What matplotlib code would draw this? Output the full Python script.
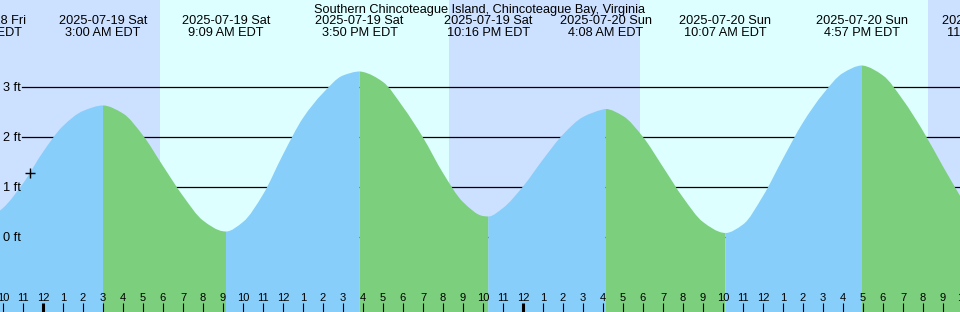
import numpy as np
import matplotlib.pyplot as plt
from matplotlib.path import Path
from matplotlib.patches import PathPatch

plt.rcParams['font.family'] = ['Liberation Sans', 'DejaVu Sans']

title = "Southern Chincoteague Island, Chincoteague Bay, Virginia"

# hours after midnight Jul 19 (EDT), tide height in ft
hours = [-3.0, -2.0, -1.0, 0.0, 1.0, 2.0, 3.0, 4.0, 5.0, 6.0, 7.0, 8.0, 9.0, 9.15,
         10.0, 11.0, 12.0, 13.0, 14.0, 15.0, 15.83, 16.0, 17.0, 18.0, 19.0, 20.0,
         21.0, 22.0, 22.27, 23.0, 24.0, 25.0, 26.0, 27.0, 28.0, 28.13, 29.0, 30.0,
         31.0, 32.0, 33.0, 34.0, 34.12, 35.0, 36.0, 37.0, 38.0, 39.0, 40.0, 40.95,
         41.0, 42.0, 43.0, 44.0, 45.0, 46.0]
heights = [0.30, 0.58, 1.07, 1.70, 2.22, 2.52, 2.63, 2.47, 2.03, 1.42, 0.82, 0.33, 0.115, 0.11,
           0.30, 0.85, 1.65, 2.38, 2.88, 3.23, 3.31, 3.30, 3.10, 2.60, 1.99, 1.28,
           0.70, 0.42, 0.41, 0.58, 1.01, 1.55, 2.05, 2.40, 2.55, 2.56, 2.42, 2.00,
           1.40, 0.79, 0.30, 0.085, 0.08, 0.25, 0.82, 1.57, 2.29, 2.86, 3.28, 3.43,
           3.428, 3.23, 2.74, 2.12, 1.41, 0.72]

# high / low events shown along the top
event_hours = [-2.93, 3.0, 9.15, 15.83, 22.27, 28.13, 34.12, 40.95, 47.25]
event_dates = ["2025-07-18 Fri", "2025-07-19 Sat", "2025-07-19 Sat", "2025-07-19 Sat",
               "2025-07-19 Sat", "2025-07-20 Sun", "2025-07-20 Sun", "2025-07-20 Sun",
               "2025-07-20 Sun"]
event_times = ["9:04 PM EDT", "3:00 AM EDT", "9:09 AM EDT", "3:50 PM EDT", "10:16 PM EDT",
               "4:08 AM EDT", "10:07 AM EDT", "4:57 PM EDT", "11:15 PM EDT"]

# sunrise / sunset (hours after midnight Jul 19)
sunrise = [5.85, 29.85]
sunset = [20.3, 44.25]

grid_ft = [0, 1, 2, 3]
now_hour = -0.65
now_height = 1.29

day_col = '#ddffff'
night_col = '#cce0ff'
flood_col = '#87cefa'
ebb_col = '#7ccf7c'

# pixel -> data helpers (axes fill the whole 960x312 figure)
X0, XS = 43.0, 20.0     # px of midnight Jul 19, px per hour
Y0, YS = 237.0, 50.0    # px of 0 ft, px per ft
def hx(px):
    return (px - X0) / XS
def hy(py):
    return (Y0 - py) / YS

fig = plt.figure(figsize=(9.6, 3.12), dpi=100)
ax = fig.add_axes([0, 0, 1, 1])
ax.set_xlim(hx(0), hx(960))
ax.set_ylim(hy(312), hy(0))
ax.axis('off')

# night background, day bands on top
ax.axvspan(hx(-5), hx(965), color=night_col, lw=0, zorder=0)
for r, s in zip(sunrise, sunset):
    ax.axvspan(r, s, color=day_col, lw=0, zorder=0)

# grid lines
for g in grid_ft:
    ax.plot([hx(22), hx(960)], [g, g], color='black', lw=0.9, zorder=1)

# tide fill: smooth monotone curve, rising (flood) / falling (ebb) runs
t = np.array(hours)
h = np.array(heights)
dt = np.diff(t)
d = np.diff(h) / dt
m = np.zeros_like(h)
m[0], m[-1] = d[0], d[-1]
for i in range(1, len(h) - 1):
    if d[i - 1] * d[i] > 0:
        w1 = 2 * dt[i] + dt[i - 1]
        w2 = dt[i] + 2 * dt[i - 1]
        m[i] = (w1 + w2) / (w1 / d[i - 1] + w2 / d[i])

bottom = hy(312) - 1

def run_patch(i0, i1, col):
    verts = [(t[i0], bottom), (t[i0], h[i0])]
    codes = [Path.MOVETO, Path.LINETO]
    for i in range(i0, i1):
        s = dt[i] / 3
        verts += [(t[i] + s, h[i] + m[i] * s), (t[i + 1] - s, h[i + 1] - m[i + 1] * s),
                  (t[i + 1], h[i + 1])]
        codes += [Path.CURVE4] * 3
    verts += [(t[i1], bottom), (t[i0], bottom)]
    codes += [Path.LINETO, Path.CLOSEPOLY]
    return PathPatch(Path(verts, codes), facecolor=col, lw=0, zorder=2)

rising = d > 0
start = 0
for i in range(1, len(rising) + 1):
    if i == len(rising) or rising[i] != rising[start]:
        ax.add_patch(run_patch(start, i, flood_col if rising[start] else ebb_col))
        start = i

# current time marker
ax.plot(now_hour, now_height, marker='+', color='black', ms=7, mew=1.0, zorder=4)

# left height labels
for g in grid_ft:
    ax.text(hx(3), hy(Y0 - g * YS + 4), "%d ft" % g, fontsize=9.2, ha='left',
            va='baseline', zorder=5)

# title and event labels
ax.text(hx(480), hy(12.7), title, fontsize=9.2, ha='center', va='baseline', zorder=5)
for eh, dd, tm in zip(event_hours, event_dates, event_times):
    ax.text(eh, hy(24.3), dd, fontsize=9.2, ha='center', va='baseline', zorder=5)
    ax.text(eh, hy(36.5), tm, fontsize=9.2, ha='center', va='baseline', zorder=5)

# hour ticks and labels along the bottom
for k in range(-2, 47):
    lab = k % 12 or 12
    ax.text(k, hy(300.7), str(lab), fontsize=8, ha='center', va='baseline', zorder=5)
    lw = 2.2 if k % 24 == 0 else 0.8
    ax.plot([k, k], [hy(303), hy(313)], color='black', lw=lw, solid_capstyle='butt', zorder=5)

fig.savefig('out.png', dpi=100)
